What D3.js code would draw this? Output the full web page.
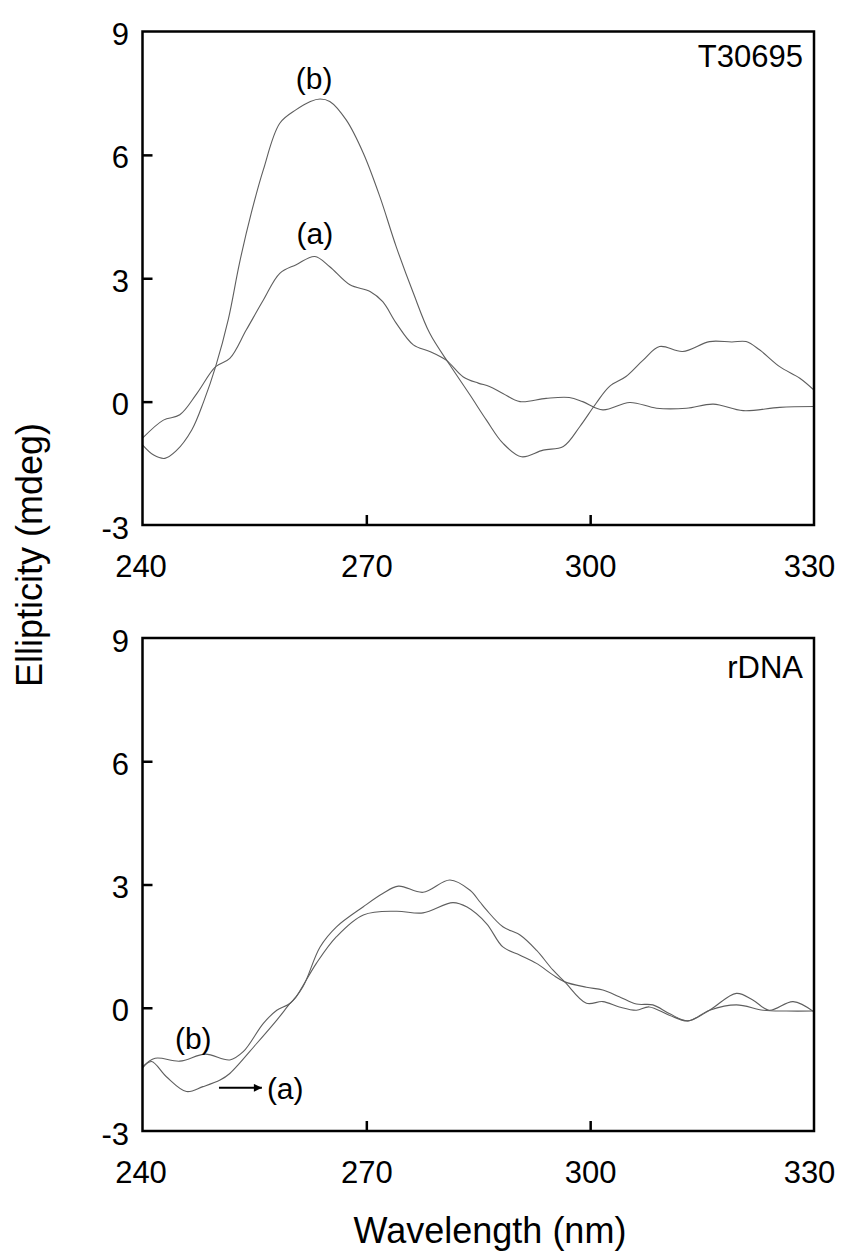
<!DOCTYPE html>
<html>
<head>
<meta charset="utf-8">
<script src="https://cdn.jsdelivr.net/npm/d3@7"></script>
<style>
  html, body { margin: 0; padding: 0; background: #fff; }
  svg { display: block; font-family: "Liberation Sans", Arial, sans-serif; }
</style>
</head>
<body>
<svg id="chart" width="842" height="1260"></svg>
<script>
// CD spectra: wavelength (nm) vs ellipticity (mdeg)
const xTicks = [240, 270, 300, 330];
const yTicks = [-3, 0, 3, 6, 9];
const yTickMarks = [0, 3, 6];

// T30695 panel
const t30695A = [[240,-0.89],[242.8,-0.45],[245,-0.32],[247.3,0.2],[249.8,0.85],[251.7,1.05],[253.9,1.74],[256.2,2.47],[258.4,3.12],[260.6,3.33],[263.1,3.53],[265.1,3.28],[267.8,2.84],[270.5,2.68],[272.2,2.43],[274.0,1.91],[276.3,1.38],[278.5,1.22],[280.7,1.01],[283,0.6],[285,0.45],[286.5,0.37],[288.3,0.2],[290.6,0.0],[294.1,0.08],[297.2,0.1],[299,0.0],[301.7,-0.2],[305.3,-0.02],[308.9,-0.16],[312.9,-0.16],[316.5,-0.06],[320.5,-0.22],[325.4,-0.14],[330,-0.12]];
const t30695B = [[240,-1.05],[241.5,-1.3],[243,-1.38],[244.5,-1.2],[246.6,-0.69],[248.2,0.0],[249.8,0.85],[251.5,2.0],[253,3.37],[254.6,4.6],[256.2,5.64],[258.4,6.77],[260.6,7.1],[262.5,7.3],[263.8,7.36],[265.1,7.3],[267.3,6.85],[269.6,6.04],[271.8,4.99],[274.0,3.77],[276.3,2.64],[278.5,1.66],[281.2,0.89],[283.9,0.16],[286.1,-0.45],[288.3,-1.01],[290.8,-1.34],[293.7,-1.18],[296.4,-1.09],[298.6,-0.61],[300.8,-0.04],[302.6,0.37],[304.8,0.61],[307.1,1.01],[309.3,1.34],[312.4,1.22],[316.0,1.46],[319,1.45],[320.9,1.46],[322.7,1.26],[325.4,0.85],[328.1,0.57],[330,0.28]];

// rDNA panel
const rdnaA = [[240,-1.47],[241.2,-1.31],[243.2,-1.68],[245.9,-2.04],[248.1,-1.92],[250.4,-1.76],[251.7,-1.6],[255.3,-0.87],[258,-0.3],[259.8,0.11],[260.6,0.27],[263.3,1.08],[266,1.73],[269.6,2.26],[274,2.35],[277.6,2.31],[281.6,2.56],[283.5,2.45],[286.1,2.05],[288.3,1.48],[290.6,1.28],[292.8,1.08],[295,0.8],[296.6,0.63],[299.5,0.5],[301.7,0.43],[303.9,0.27],[306.2,0.09],[308.4,0.07],[310.6,-0.14],[313.1,-0.32],[316,-0.06],[319.6,0.07],[323.2,-0.06],[326.3,-0.08],[330,-0.08]];
const rdnaB = [[240,-1.44],[241.7,-1.23],[245,-1.3],[248.4,-1.13],[251.7,-1.27],[253.5,-1.07],[256.2,-0.38],[258,-0.06],[259.8,0.11],[261.5,0.51],[263.8,1.48],[266,1.97],[269.6,2.46],[272.2,2.78],[274.3,2.96],[277.6,2.81],[281.2,3.11],[283.9,2.86],[285.2,2.58],[286.1,2.38],[288.3,1.97],[290.6,1.77],[292.8,1.4],[295,0.92],[296.6,0.63],[299.5,0.11],[301.7,0.15],[303.9,0.02],[306.2,-0.06],[307.9,0.02],[310.6,-0.18],[313.1,-0.32],[316,-0.06],[319.6,0.35],[321.8,0.19],[324,-0.06],[327.2,0.15],[330,-0.1]];

const panels = [
  { name: "T30695", top: 31.5, bottom: 525, series: [t30695A, t30695B],
    labels: [{ t: "(b)", x: 263.0, y: 7.61 }, { t: "(a)", x: 263.1, y: 3.84 }], arrow: null },
  { name: "rDNA", top: 638, bottom: 1131, series: [rdnaA, rdnaB],
    labels: [{ t: "(b)", x: 246.8, y: -1.0 }],
    arrow: { x0: 250.25, x1: 256.0, y: -1.95, label: "(a)" } }
];

const left = 142.5, right = 814;
const svg = d3.select("#chart");
const fmt = d => String(d);

svg.append("defs").append("marker")
  .attr("id", "head").attr("viewBox", "0 0 10 10")
  .attr("refX", 10).attr("refY", 5)
  .attr("markerWidth", 10).attr("markerHeight", 8)
  .attr("markerUnits", "userSpaceOnUse")
  .attr("orient", "auto")
  .append("path").attr("d", "M0,0L10,5L0,10Z").attr("fill", "#000");

panels.forEach(p => {
  const x = d3.scaleLinear().domain([240, 330]).range([left, right]);
  const y = d3.scaleLinear().domain([-3, 9]).range([p.bottom, p.top]);
  const g = svg.append("g");

  const line = d3.line().x(d => x(d[0])).y(d => y(d[1])).curve(d3.curveCatmullRom.alpha(0.5));
  p.series.forEach(s => {
    g.append("path").datum(s).attr("d", line)
      .attr("fill", "none").attr("stroke", "#5e5e5e").attr("stroke-width", 1.1);
  });

  // y axis: labels at every step, inward tick marks only inside the frame
  const ya = g.append("g").attr("transform", `translate(${left},0)`)
    .call(d3.axisLeft(y).tickValues(yTicks).tickSize(-10).tickPadding(13.5).tickFormat(fmt));
  ya.select(".domain").remove();
  ya.selectAll(".tick").filter(d => !yTickMarks.includes(d)).select("line").remove();
  ya.selectAll(".tick line").attr("stroke", "#000").attr("stroke-width", 2.5);
  ya.selectAll("text").attr("font-size", 31).attr("fill", "#000").attr("dy", "0.42em")
    .attr("font-family", "Liberation Sans, Arial, sans-serif");

  const xa = g.append("g").attr("transform", `translate(0,${p.bottom})`)
    .call(d3.axisBottom(x).tickValues(xTicks).tickSize(-10).tickPadding(30).tickFormat(fmt));
  xa.select(".domain").remove();
  xa.selectAll(".tick").filter(d => d === 240 || d === 330).select("line").remove();
  xa.selectAll(".tick line").attr("stroke", "#000").attr("stroke-width", 2.5);
  xa.selectAll("text").attr("font-size", 31).attr("fill", "#000")
    .attr("font-family", "Liberation Sans, Arial, sans-serif")
    .attr("dx", d => d === 330 ? -5 : (d === 240 ? -2 : 0));

  // frame
  g.append("rect").attr("x", left).attr("y", p.top)
    .attr("width", right - left).attr("height", p.bottom - p.top)
    .attr("fill", "none").attr("stroke", "#000").attr("stroke-width", 2.5);

  // panel name
  g.append("text").attr("x", right - 11).attr("y", p.top + (p.name === "rDNA" ? 40 : 35.5))
    .attr("text-anchor", "end").attr("font-size", 31).text(p.name);

  p.labels.forEach(l => {
    g.append("text").attr("x", x(l.x)).attr("y", y(l.y))
      .attr("text-anchor", "middle").attr("font-size", 30).text(l.t);
  });

  if (p.arrow) {
    const a = p.arrow;
    g.append("line").attr("x1", x(a.x0)).attr("x2", x(a.x1))
      .attr("y1", y(a.y)).attr("y2", y(a.y))
      .attr("stroke", "#000").attr("stroke-width", 2).attr("marker-end", "url(#head)");
    g.append("text").attr("x", x(a.x1) + 5).attr("y", y(a.y)).attr("dy", "0.36em")
      .attr("font-size", 30).text(a.label);
  }
});

// axis titles
svg.append("text").attr("x", 490).attr("y", 1243).attr("text-anchor", "middle")
  .attr("font-size", 36).text("Wavelength (nm)");
svg.append("text").attr("transform", "translate(42,555) rotate(-90)")
  .attr("text-anchor", "middle").attr("font-size", 36).text("Ellipticity (mdeg)");
</script>
</body>
</html>
